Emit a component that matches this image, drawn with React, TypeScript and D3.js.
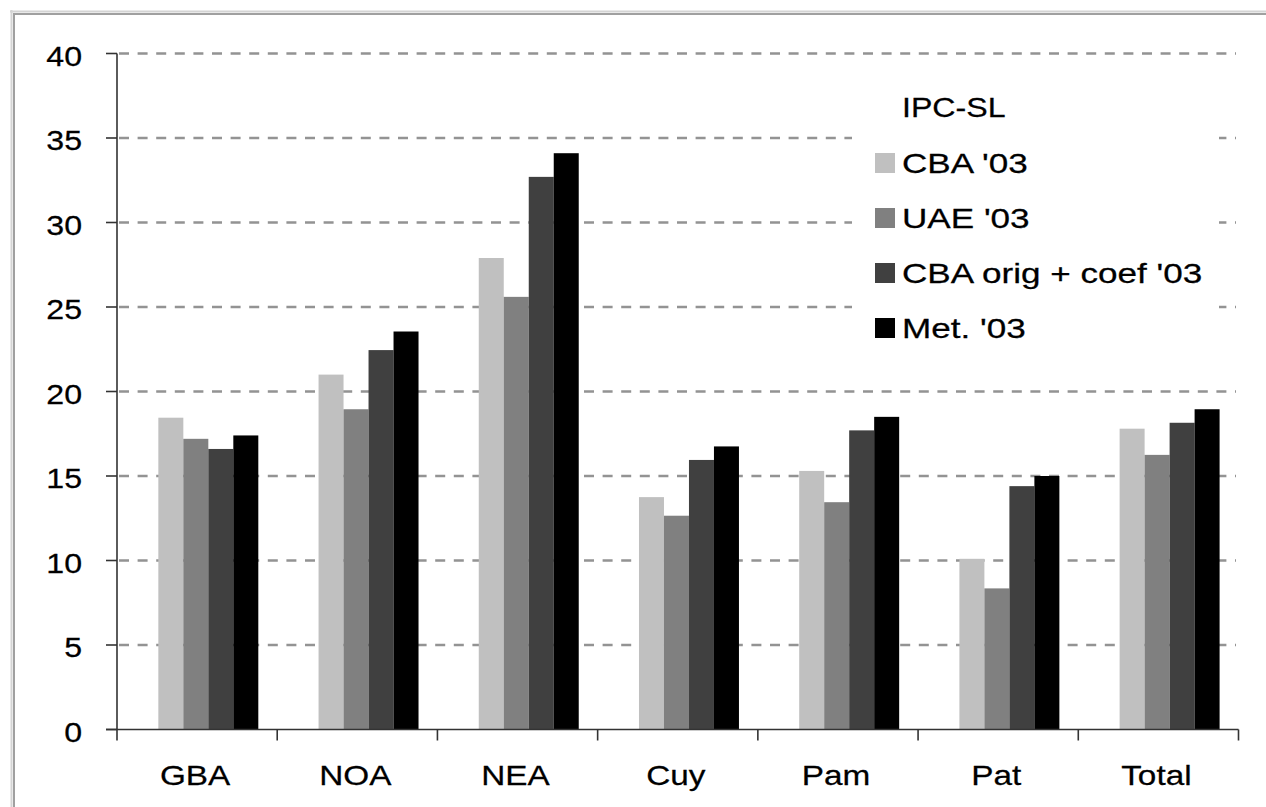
import React from "react";
import * as d3 from "d3";

const categories = ["GBA", "NOA", "NEA", "Cuy", "Pam", "Pat", "Total"];
const seriesNames = ["CBA '03", "UAE '03", "CBA orig + coef '03", "Met. '03"];
const seriesColors = ["#c0c0c0", "#808080", "#404040", "#000000"];
const cbaValues = [18.45, 21.0, 27.9, 13.75, 15.3, 10.1, 17.8];
const uaeValues = [17.2, 18.95, 25.6, 12.65, 13.45, 8.35, 16.25];
const cbaOrigValues = [16.6, 22.45, 32.7, 15.95, 17.7, 14.4, 18.15];
const metValues = [17.4, 23.55, 34.1, 16.75, 18.5, 15.0, 18.95];
const yTicks = [0, 5, 10, 15, 20, 25, 30, 35, 40];
const legendTitle = "IPC-SL";

const W = 1266;
const H = 807;
const SX = 1.19; // horizontal stretch of text in the reference

export default function App() {
  const seriesValues = [cbaValues, uaeValues, cbaOrigValues, metValues];
  const left = 117;
  const right = 1238.5;
  const top = 53.5;
  const bottom = 729.5;
  const y = d3.scaleLinear().domain([0, 40]).range([bottom, top]);
  const x0 = d3.scaleBand<string>().domain(categories).range([left, right]).padding(0);
  const bw = x0.bandwidth();
  const x1 = d3
    .scaleBand<string>()
    .domain(seriesNames)
    .range([bw * 0.258, bw * 0.882])
    .padding(0);

  const sText = (x: number, yy: number, txt: string, anchor: string, size = 27, sx = SX) => (
    <text
      transform={`translate(${x},${yy}) scale(${sx},1)`}
      textAnchor={anchor}
      fontSize={size}
      fontFamily="'Liberation Sans', Arial, sans-serif"
      fill="#000"
      stroke="#000"
      strokeWidth={0.25}
    >
      {txt}
    </text>
  );

  const legX = 875;
  const legRows = [163, 218, 273, 328];

  return (
    <svg
      width={W}
      height={H}
      style={{ position: "absolute", left: 0, top: 0, background: "#fff" }}
    >
      <rect x={0} y={0} width={W} height={H} fill="#fff" />
      {/* frame */}
      <line x1={10} x2={W} y1={11.5} y2={11.5} stroke="#d4d4d4" strokeWidth={2} />
      <line x1={13} x2={W} y1={14} y2={14} stroke="#a0a0a0" strokeWidth={2} />
      <line x1={11.5} x2={11.5} y1={10} y2={H} stroke="#d4d4d4" strokeWidth={2} />
      <line x1={14} x2={14} y1={13} y2={H} stroke="#a0a0a0" strokeWidth={2} />

      {/* grid */}
      {yTicks
        .filter((t) => t > 0)
        .map((t) => (
          <line
            key={t}
            x1={left + 2}
            x2={1236}
            y1={y(t)}
            y2={y(t)}
            stroke="#939393"
            strokeWidth={2.5}
            strokeDasharray="10,8.6"
          />
        ))}

      {/* legend background */}
      <rect x={852} y={80} width={367} height={290} fill="#fff" />

      {/* bars */}
      {categories.map((c, ci) => (
        <g key={c} transform={`translate(${x0(c)},0)`}>
          {seriesNames.map((s, si) => (
            <rect
              key={s}
              x={x1(s)}
              y={y(seriesValues[si][ci])}
              width={x1.bandwidth()}
              height={y(0) - y(seriesValues[si][ci])}
              fill={seriesColors[si]}
            />
          ))}
        </g>
      ))}

      {/* y axis */}
      <line x1={left} x2={left} y1={top} y2={bottom + 11} stroke="#333" strokeWidth={1.6} />
      {yTicks.map((t) => (
        <g key={t}>
          <line x1={left - 11} x2={left} y1={y(t)} y2={y(t)} stroke="#333" strokeWidth={1.6} />
          {sText(82, y(t) + 12, String(t), "end")}
        </g>
      ))}

      {/* x axis */}
      <line x1={left - 11} x2={right} y1={bottom} y2={bottom} stroke="#333" strokeWidth={1.6} />
      {categories.map((c) => (
        <line
          key={c}
          x1={(x0(c) as number) + bw}
          x2={(x0(c) as number) + bw}
          y1={bottom}
          y2={bottom + 11}
          stroke="#333"
          strokeWidth={1.6}
        />
      ))}
      {categories.map((c) => (
        <g key={c + "l"}>{sText((x0(c) as number) + bw / 2 - 2, 785, c, "middle", 28)}</g>
      ))}

      {/* legend */}
      {sText(902, 117, legendTitle, "start")}
      {seriesNames.map((s, i) => (
        <g key={s}>
          <rect x={legX} y={legRows[i] - 10} width={20} height={20} fill={seriesColors[i]} />
          {sText(902, legRows[i] + 10, s, "start", 27, 1.3)}
        </g>
      ))}
    </svg>
  );
}
